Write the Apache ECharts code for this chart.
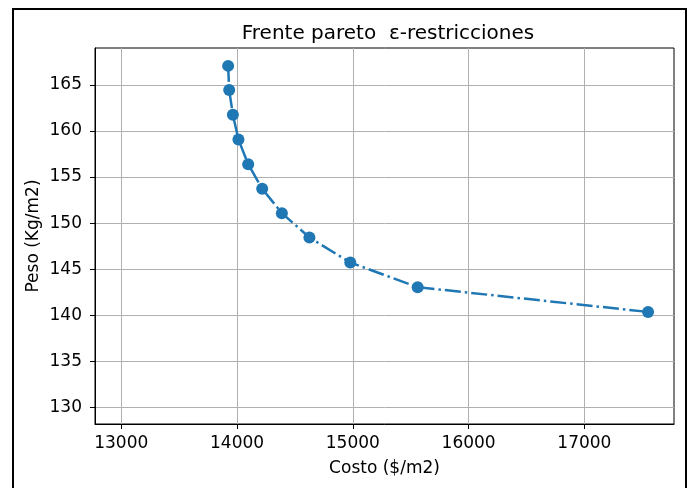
<!DOCTYPE html>
<html><head><meta charset="utf-8">
<script src="https://cdn.jsdelivr.net/npm/echarts@6/dist/echarts.min.js"></script>
<style>html,body{margin:0;padding:0;background:#fff}#c{width:693px;height:488px}</style>
</head><body><div id="c"></div>
<script>
const costo = [13923, 13932, 13964, 14012, 14096, 14217, 14387, 14625, 14978, 15560, 17550];
const peso  = [167.06, 164.43, 161.75, 159.06, 156.39, 153.73, 151.08, 148.44, 145.72, 143.05, 140.36];
const xTicks = [13000, 14000, 15000, 16000, 17000];
const yTicks = [130, 135, 140, 145, 150, 155, 160, 165];
const titleText = 'Frente pareto  ε-restricciones';
const xName = 'Costo ($/m2)';
const yName = 'Peso (Kg/m2)';

const font = 'DejaVu Sans';
const chart = echarts.init(document.getElementById('c'), null, {renderer: 'canvas'});
chart.setOption({
  animation: false,
  backgroundColor: '#fff',
  textStyle: {fontFamily: font},
  title: {text: titleText, left: 383, top: 19, textAlign: 'center',
    textStyle: {fontFamily: font, fontSize: 20, fontWeight: 'normal', color: '#000'}},
  graphic: [{type: 'rect', shape: {x: 13, y: 9, width: 673, height: 520},
    style: {fill: 'none', stroke: '#000', lineWidth: 2}, silent: true, z: 100}],
  grid: {left: 95, top: 48, right: 19, bottom: 64, show: true, borderColor: '#000', borderWidth: 1},
  xAxis: {type: 'value', min: 12773, max: 17774,
    name: xName, nameLocation: 'middle', nameGap: 36, nameMoveOverlap: false,
    nameTextStyle: {fontFamily: font, fontSize: 17, color: '#000'},
    axisLine: {show: true, lineStyle: {color: '#000'}},
    axisTick: {show: true, length: 5, customValues: xTicks, lineStyle: {color: '#000'}},
    axisLabel: {customValues: xTicks, margin: 11, fontFamily: font, fontSize: 17, color: '#000',
      formatter: v => String(v)},
    splitLine: {show: true, lineStyle: {color: '#b0b0b0', width: 1}}},
  yAxis: {type: 'value', min: 128.2, max: 169.0,
    name: yName, nameLocation: 'middle', nameGap: 53, nameMoveOverlap: false,
    nameTextStyle: {fontFamily: font, fontSize: 17, color: '#000'},
    axisLine: {show: true, lineStyle: {color: '#000'}},
    axisTick: {show: true, length: 5, customValues: yTicks, lineStyle: {color: '#000'}},
    axisLabel: {customValues: yTicks, margin: 13, fontFamily: font, fontSize: 17, color: '#000',
      formatter: v => String(v)},
    splitLine: {show: true, lineStyle: {color: '#b0b0b0', width: 1}}},
  series: [{type: 'line', data: costo.map((c, i) => [c, peso[i]]),
    symbol: 'circle', symbolSize: 12, showSymbol: true,
    itemStyle: {color: '#1f77b4'},
    lineStyle: {color: '#1f77b4', width: 2.5, type: [16, 4, 2.5, 4]}}]
});
</script></body></html>
